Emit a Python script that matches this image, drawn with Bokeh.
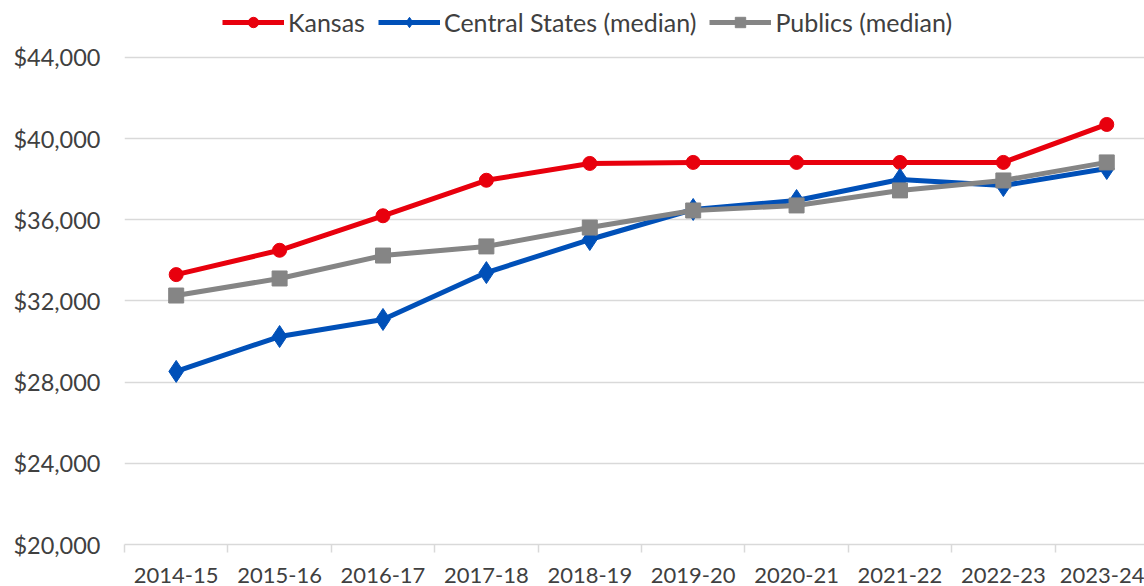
from bokeh.plotting import figure
from bokeh.models import Range1d, FixedTicker, NumeralTickFormatter, Legend, LegendItem, ColumnDataSource
from bokeh.embed import file_html
from bokeh.resources import INLINE

years = ["2014-15", "2015-16", "2016-17", "2017-18", "2018-19",
         "2019-20", "2020-21", "2021-22", "2022-23", "2023-24"]
kansas = [33300, 34500, 36200, 37950, 38780, 38830, 38830, 38830, 38830, 40700]
central = [28530, 30250, 31090, 33400, 35030, 36510, 36950, 37990, 37690, 38530]
publics = [32270, 33110, 34240, 34690, 35620, 36460, 36710, 37450, 37940, 38830]
y_ticks = [20000, 24000, 28000, 32000, 36000, 40000, 44000]

xpos = [i + 0.5 for i in range(len(years))]
src = ColumnDataSource(dict(x=xpos, kansas=kansas, central=central, publics=publics))

FONT = "Lato"
TXT = "#404040"

p = figure(width=1144, height=586, output_backend="svg", toolbar_location=None,
           x_range=Range1d(0, 9.865), y_range=Range1d(20000, 46809),
           min_border_left=124, min_border_right=0, min_border_top=0, min_border_bottom=42)
p.outline_line_color = None
p.background_fill_color = "white"
p.border_fill_color = "white"

# axes
xa = p.xaxis[0]
xa.ticker = FixedTicker(ticks=xpos, minor_ticks=list(range(len(years) + 1)))
xa.major_label_overrides = {x: y for x, y in zip(xpos, years)}
xa.axis_line_color = "#d9d9d9"
xa.axis_line_width = 1.5
xa.major_tick_line_color = None
xa.major_tick_out = 0
xa.major_tick_in = 0
xa.minor_tick_line_color = "#d9d9d9"
xa.minor_tick_line_width = 1.5
xa.minor_tick_out = 8
xa.minor_tick_in = 0
xa.major_label_standoff = 15
xa.major_label_text_font = FONT
xa.major_label_text_font_size = "22px"
xa.major_label_text_color = TXT

ya = p.yaxis[0]
ya.ticker = FixedTicker(ticks=y_ticks)
ya.formatter = NumeralTickFormatter(format="$0,0")
ya.axis_line_color = None
ya.major_tick_line_color = None
ya.minor_tick_line_color = None
ya.major_tick_out = 0
ya.major_tick_in = 0
ya.major_label_standoff = 24
ya.major_label_text_font = FONT
ya.major_label_text_font_size = "23.5px"
ya.major_label_text_color = TXT

p.xgrid.grid_line_color = None
p.ygrid.ticker = FixedTicker(ticks=y_ticks)
p.ygrid.grid_line_color = "#d9d9d9"
p.ygrid.grid_line_width = 1.5

RED = "#e8000d"
BLUE = "#0050b8"
GRAY = "#858585"

lk = p.line("x", "kansas", source=src, line_color=RED, line_width=5, line_join="round")
mk = p.scatter("x", "kansas", source=src, marker="circle", size=14, fill_color=RED, line_color=RED)
lc = p.line("x", "central", source=src, line_color=BLUE, line_width=5, line_join="round")
mc = p.scatter("x", "central", source=src, marker="diamond", size=22, fill_color=BLUE, line_color=BLUE)
lp = p.line("x", "publics", source=src, line_color=GRAY, line_width=5, line_join="round")
mp = p.scatter("x", "publics", source=src, marker="square", size=15, fill_color=GRAY, line_color=GRAY)

legend = Legend(items=[
    LegendItem(label="Kansas", renderers=[lk, mk]),
    LegendItem(label="Central States (median)", renderers=[lc, mc]),
    LegendItem(label="Publics (median)", renderers=[lp, mp]),
], orientation="horizontal", location=(98, 507))
legend.background_fill_alpha = 0
legend.border_line_color = None
legend.padding = 0
legend.margin = 0
legend.spacing = 13
legend.glyph_width = 62
legend.glyph_height = 26
legend.label_standoff = 4
legend.label_text_font = FONT
legend.label_text_font_size = "25px"
legend.label_text_color = TXT
p.add_layout(legend, "center")

open("out.html", "w").write(file_html(p, INLINE))
